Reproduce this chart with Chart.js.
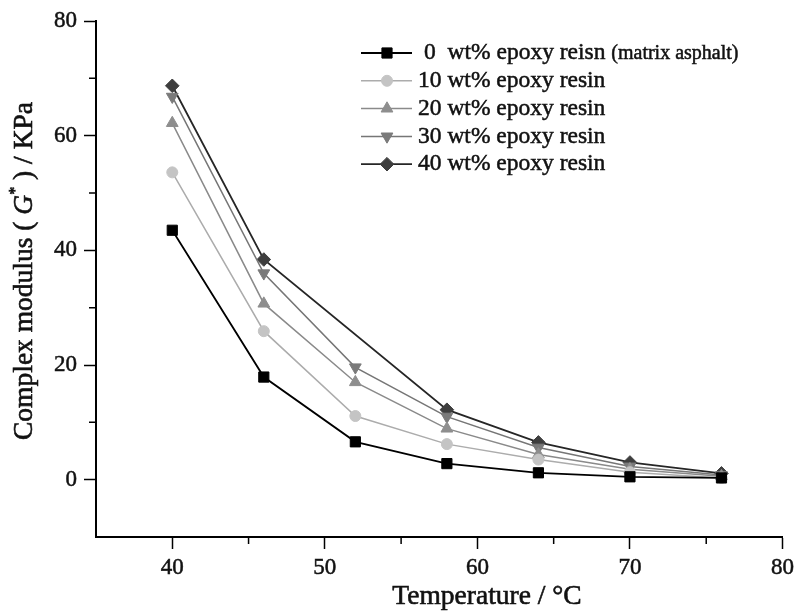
<!DOCTYPE html>
<html>
<head>
<meta charset="utf-8">
<script src="https://cdn.jsdelivr.net/npm/chart.js@4/dist/chart.umd.min.js"></script>
<style>
  html, body { margin: 0; padding: 0; background: #fff; }
  #wrap { width: 799px; height: 613px; }
</style>
</head>
<body>
<div id="wrap"><canvas id="chart" width="799" height="613"></canvas></div>
<script>
// temperatures (°C)
const temps = [40, 46, 52, 58, 64, 70, 76];

// complex modulus G* (KPa)
const g0  = [43.5, 17.9, 6.6, 2.8, 1.2, 0.5, 0.3];
const g10 = [53.6, 25.9, 11.1, 6.2, 3.5, 1.3, 0.3];
const g20 = [62.2, 30.7, 17.0, 8.9, 4.4, 1.8, 0.6];
const g30 = [66.8, 36.0, 19.6, 11.0, 5.6, 2.3, 0.8];
const g40 = [68.7, 38.4, null, 12.2, 6.5, 3.0, 1.1];   // no point at 52 °C

const labels = [
    "0  wt% epoxy reisn",
    "10 wt% epoxy resin",
    "20 wt% epoxy resin",
    "30 wt% epoxy resin",
    "40 wt% epoxy resin"
];

const xMajor = [40, 50, 60, 70, 80];
const xMinor = [45, 55, 65, 75];
const yMajor = [0, 20, 40, 60, 80];
const yMinor = [10, 30, 50, 70];

const SERIF = "'Liberation Serif', 'DejaVu Serif', serif";
const INK = "#111";

function series(label, data, style, rot, radius, fill, line, width) {
    return {
        label: label,
        data: temps.map(function(t, i) { return { x: t, y: data[i] }; }),
        pointStyle: style,
        rotation: rot,
        pointRadius: radius,
        pointBackgroundColor: fill,
        pointBorderColor: fill,
        pointBorderWidth: 1,
        borderColor: line,
        borderWidth: width,
        tension: 0,
        spanGaps: true,
        fill: false
    };
}

const datasets = [
    series(labels[0], g0,  "rect",     0,   7.2, "#000000", "#000000", 1.8),
    series(labels[1], g10, "circle",   0,   5.5, "#c4c4c4", "#acacac", 1.5),
    series(labels[2], g20, "triangle", 0,   6.8, "#8e8e8e", "#8a8a8a", 1.5),
    series(labels[3], g30, "triangle", 180, 6.8, "#7a7a7a", "#767676", 1.5),
    series(labels[4], g40, "rectRot",  0,   6.8, "#3e3e3e", "#262626", 1.8)
];

function boldText(ctx, s, x, y) {
    ctx.strokeText(s, x, y);
    ctx.fillText(s, x, y);
}

// minor ticks, legend and axis titles
const decorations = {
    id: "decorations",
    afterDraw: function(chart) {
        const ctx = chart.ctx;
        const xs = chart.scales.x, ys = chart.scales.y;
        const area = chart.chartArea;
        ctx.save();
        ctx.strokeStyle = "#000";
        ctx.lineWidth = 1.5;
        ctx.beginPath();
        xMinor.forEach(function(v) {
            const px = xs.getPixelForValue(v);
            ctx.moveTo(px, area.bottom);
            ctx.lineTo(px, area.bottom + 7);
        });
        yMinor.forEach(function(v) {
            const py = ys.getPixelForValue(v);
            ctx.moveTo(area.left, py);
            ctx.lineTo(area.left - 7, py);
        });
        ctx.stroke();

        // legend
        chart.data.datasets.forEach(function(ds, i) {
            const y = 53 + i * 27.8;
            ctx.strokeStyle = ds.borderColor;
            ctx.lineWidth = ds.borderWidth;
            ctx.beginPath();
            ctx.moveTo(361, y);
            ctx.lineTo(412, y);
            ctx.stroke();
            ctx.fillStyle = ds.pointBackgroundColor;
            ctx.strokeStyle = ds.pointBorderColor;
            ctx.lineWidth = 1;
            Chart.helpers.drawPoint(ctx, {
                pointStyle: ds.pointStyle,
                rotation: ds.rotation,
                radius: ds.pointRadius,
                borderWidth: 1
            }, 387, y);
            ctx.fillStyle = INK;
            ctx.strokeStyle = INK;
            ctx.lineWidth = 0.5;
            ctx.textBaseline = "middle";
            ctx.textAlign = "left";
            ctx.font = "23.5px " + SERIF;
            const tx = i === 0 ? 424 : 418;
            boldText(ctx, ds.label, tx, y);
            if (i === 0) {
                const w = ctx.measureText(ds.label + " ").width;
                ctx.font = "20px " + SERIF;
                boldText(ctx, "(matrix asphalt)", tx + w, y + 1);
            }
        });

        // x title
        ctx.fillStyle = INK;
        ctx.strokeStyle = INK;
        ctx.lineWidth = 0.6;
        ctx.font = "27.5px " + SERIF;
        ctx.textAlign = "center";
        ctx.textBaseline = "middle";
        boldText(ctx, "Temperature / \u00B0C", 487, 597);

        // y title, with italic G and superscript *
        ctx.translate(25, 271);
        ctx.rotate(-Math.PI / 2);
        const parts = [
            { t: "Complex modulus ( ", f: "27.5px " + SERIF, dy: 0 },
            { t: "G", f: "italic 27.5px " + SERIF, dy: 0 },
            { t: "*", f: "16px " + SERIF, dy: -9 },
            { t: " ) / KPa", f: "27.5px " + SERIF, dy: 0 }
        ];
        let total = 0;
        parts.forEach(function(p) { ctx.font = p.f; p.w = ctx.measureText(p.t).width; total += p.w; });
        let cx = -total / 2;
        ctx.textAlign = "left";
        parts.forEach(function(p) {
            ctx.font = p.f;
            boldText(ctx, p.t, cx, p.dy);
            cx += p.w;
        });
        ctx.restore();
    }
};

const tickFont = { family: SERIF, size: 23 };

new Chart(document.getElementById("chart"), {
    type: "line",
    data: { datasets: datasets },
    options: {
        responsive: false,
        animation: false,
        events: [],
        layout: { padding: { left: 0, right: 16, top: 21, bottom: 0 } },
        plugins: {
            legend: { display: false },
            tooltip: { enabled: false }
        },
        scales: {
            x: {
                type: "linear",
                min: 35,
                max: 80,
                afterBuildTicks: function(s) { s.ticks = xMajor.map(function(v) { return { value: v }; }); },
                afterFit: function(s) { s.height = 76; },
                grid: { drawOnChartArea: false, drawTicks: true, tickLength: 12, tickWidth: 1.5, tickColor: "#000" },
                border: { display: true, color: "#000", width: 2 },
                ticks: { color: INK, font: tickFont, padding: 5, maxRotation: 0, textStrokeColor: INK, textStrokeWidth: 0.5 }
            },
            y: {
                type: "linear",
                min: -10,
                max: 80,
                afterBuildTicks: function(s) { s.ticks = yMajor.map(function(v) { return { value: v }; }); },
                afterFit: function(s) { s.width = 96; },
                grid: { drawOnChartArea: false, drawTicks: true, tickLength: 12, tickWidth: 1.5, tickColor: "#000" },
                border: { display: true, color: "#000", width: 2 },
                ticks: { color: INK, font: tickFont, padding: 7, textStrokeColor: INK, textStrokeWidth: 0.5 }
            }
        }
    },
    plugins: [decorations]
});
</script>
</body>
</html>
